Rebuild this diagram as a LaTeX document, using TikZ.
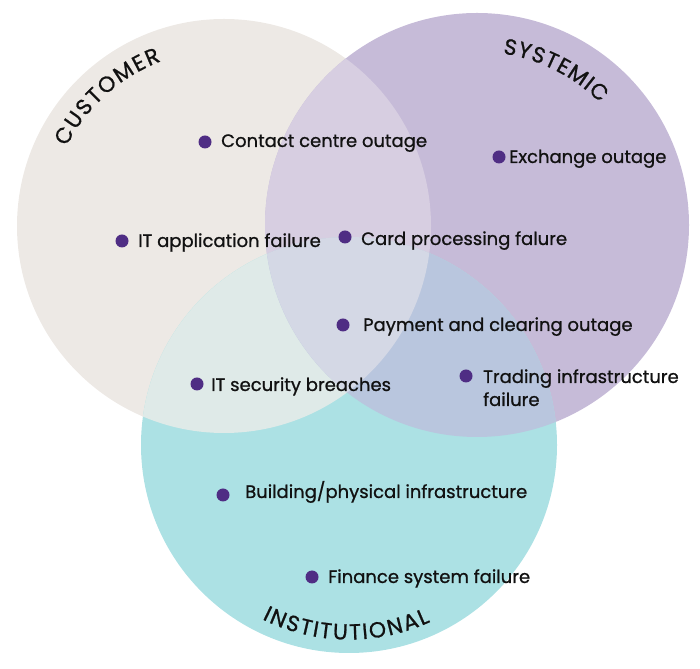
\documentclass[tikz,border=0pt]{standalone}
\usepackage{fontspec}
\setmainfont{Poppins}[FakeBold=0.9]
\definecolor{cCol}{HTML}{EDE9E5}
\definecolor{sCol}{HTML}{C6BBD8}
\definecolor{iCol}{HTML}{ACE1E4}
\definecolor{csCol}{HTML}{D7CEE1}
\definecolor{ciCol}{HTML}{DFEAE8}
\definecolor{siCol}{HTML}{B9C6DE}
\definecolor{csiCol}{HTML}{D4D8E5}
\definecolor{dotCol}{HTML}{4F2D84}
\definecolor{txtCol}{HTML}{111111}
\newcommand\curvfont{\fontsize{22}{22}\selectfont}
\tikzset{
  dot/.style={circle, fill=dotCol, inner sep=0pt, minimum size=13pt},
  lbl/.style={anchor=base west, inner sep=0pt, text=txtCol, font=\fontsize{18}{23}\selectfont},
  curv/.style={inner sep=0pt, anchor=center, text=txtCol, font=\curvfont}
}
% #1 name prefix, #2 centre, #3 radius, #4 angle of first letter, #5 angle of last letter,
% #6 rotation offset, #7 letters (comma list), #8 word
\newcommand\arcword[8]{%
  \begingroup
  \curvfont
  \pgfmathsetmacro\aw{width("#8")}%
  \foreach \l [count=\k] in {#7} {%
    \pgfmathsetmacro\ww{width("\l")}%
    \ifnum\k=1 \xdef\wfirst{\ww}\fi
    \xdef\wlast{\ww}\xdef\nn{\k}}%
  \pgfmathsetmacro\L{abs(#5-#4)*pi/180*#3}%
  \pgfmathsetmacro\trk{(\L-\aw+\wfirst/2+\wlast/2)/(\nn-1)}%
  \pgfmathsetmacro\dir{sign(#5-#4)}%
  \xdef\pos{0}%
  \foreach \l [count=\k] in {#7} {%
    \pgfmathsetmacro\ww{width("\l")}%
    \pgfmathsetmacro\ang{#4+\dir*(\pos+\ww/2-\wfirst/2)/#3*180/pi}%
    \node[curv, rotate=\ang#6] (#1\k) at ([shift={(\ang:#3pt)}]#2) {\l};
    \pgfmathsetmacro\np{\pos+\ww+\trk}%
    \xdef\pos{\np}}%
  \endgroup
}
\begin{document}
\begin{tikzpicture}[x=1pt,y=1pt]
\useasboundingbox (0,0) rectangle (700,668);
\coordinate (cC) at (224,442);
\coordinate (cS) at (477,443);
\coordinate (cI) at (349,223);
% base circles
\fill[cCol] (cC) circle (207pt);
\fill[sCol] (cS) circle (212pt);
\fill[iCol] (cI) circle (208pt);
% pairwise overlaps
\begin{scope}\clip (cC) circle (207pt); \fill[csCol] (cS) circle (212pt);\end{scope}
\begin{scope}\clip (cC) circle (207pt); \fill[ciCol] (cI) circle (208pt);\end{scope}
\begin{scope}\clip (cS) circle (212pt); \fill[siCol] (cI) circle (208pt);\end{scope}
\begin{scope}\clip (cC) circle (207pt); \clip (cS) circle (212pt); \fill[csiCol] (cI) circle (208pt);\end{scope}
% curved titles
\arcword{cust}{cC}{184}{150.5}{113.0}{-90}{C,U,S,T,O,M,E,R}{CUSTOMER}
\arcword{sys}{cS}{181}{79.3}{47.5}{-90}{S,Y,S,T,E,M,I,C}{SYSTEMIC}
\arcword{inst}{cI}{187}{244.3}{293.3}{+90}{I,N,S,T,I,T,U,T,I,O,N,A,L}{INSTITUTIONAL}
% items
\node[dot] (d1) at (205,526) {};
\node[lbl] (t1) at (221,521) {Contact centre outage};
\node[dot] (d2) at (499,511) {};
\node[lbl] (t2) at (509,505) {Exchange outage};
\node[dot] (d3) at (122,427) {};
\node[lbl] (t3) at (138,421) {IT application failure};
\node[dot] (d4) at (345,431) {};
\node[lbl] (t4) at (361,423) {Card processing falure};
\node[dot] (d5) at (343,343) {};
\node[lbl] (t5) at (363,337) {Payment and clearing outage};
\node[dot] (d6) at (197,284) {};
\node[lbl] (t6) at (211,277) {IT security breaches};
\node[dot] (d7) at (466,292) {};
\node[lbl, align=left] (t7) at (483,262) {Trading infrastructure\\failure};
\node[dot] (d8) at (223,173) {};
\node[lbl] (t8) at (245,170) {Building/physical infrastructure};
\node[dot] (d9) at (312,91) {};
\node[lbl] (t9) at (328,85) {Finance system failure};
\end{tikzpicture}
\end{document}
